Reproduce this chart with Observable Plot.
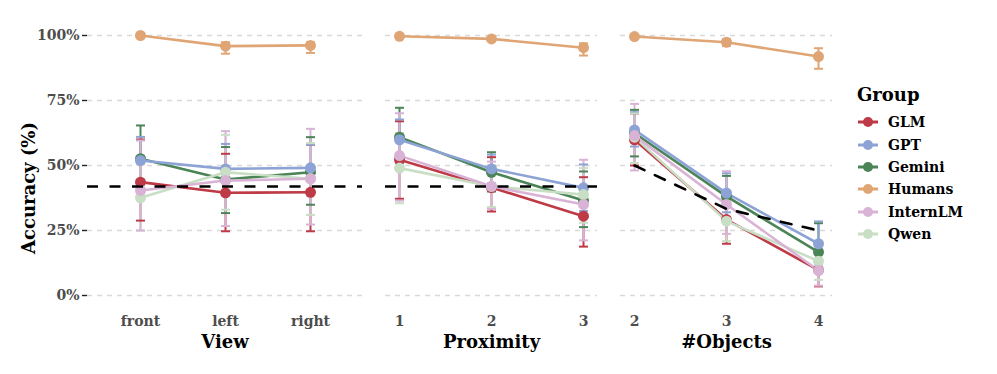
<!DOCTYPE html>
<html>
<head>
<meta charset="utf-8">
<script src="https://cdn.jsdelivr.net/npm/d3@7"></script>
<script src="https://cdn.jsdelivr.net/npm/@observablehq/plot@0.6"></script>
<style>
  html, body { margin: 0; padding: 0; background: white; }
  #chart { position: relative; width: 997px; height: 374px; background: white; font-family: "DejaVu Serif", serif; font-weight: bold; overflow: hidden; }
  .panel { position: absolute; top: 0; }
  .panel svg { overflow: visible; }
  #ytitle { position: absolute; left: 28px; top: 188px; transform: translate(-50%, -50%) rotate(-90deg); font-size: 18px; white-space: nowrap; color: #000; }
  #legend { position: absolute; left: 855px; top: 82px; }
  #legend .title { font-size: 18px; height: 29px; line-height: 26px; margin-left: 2px; }
  #legend .item { display: flex; align-items: center; height: 22.4px; font-size: 14px; color: #000; }
  #legend .item svg { margin-right: 9px; }
</style>
</head>
<body>
<div id="chart">
  <div id="ytitle">Accuracy (%)</div>
  <div id="legend"></div>
</div>
<script>
// ---- data ----
const groups = ["GLM", "GPT", "Gemini", "Humans", "InternLM", "Qwen"];
const groupColors = ["#BE3A47", "#8DA3D6", "#4B8456", "#DFA574", "#D9B3D6", "#C8DEC5"];
const drawOrder = ["Humans", "GLM", "Gemini", "GPT", "Qwen", "InternLM"];

const viewCats = ["front", "left", "right"];
const proximityCats = [1, 2, 3];
const objectCats = [2, 3, 4];

// accuracy (%) per group (rows in `groups` order) per category
const viewMean = [
  [43.6, 39.5, 39.7],
  [51.9, 48.7, 49.1],
  [52.6, 44.6, 47.4],
  [100.0, 95.9, 96.2],
  [40.4, 44.2, 44.9],
  [37.6, 47.4, 44.9]
];
const viewLow = [
  [28.8, 24.7, 24.7],
  [43.0, 39.5, 40.0],
  [40.0, 31.7, 34.9],
  [100.0, 93.0, 93.3],
  [25.0, 26.7, 27.3],
  [25.0, 33.0, 31.0]
];
const viewHigh = [
  [60.0, 54.5, 58.0],
  [61.0, 58.3, 58.0],
  [65.4, 57.1, 60.9],
  [100.0, 97.4, 97.4],
  [59.6, 63.2, 64.1],
  [50.5, 61.8, 58.6]
];

const proximityMean = [
  [52.2, 41.5, 30.5],
  [59.9, 48.7, 41.4],
  [60.9, 47.4, 36.5],
  [99.7, 98.7, 95.3],
  [53.8, 42.0, 35.0],
  [49.0, 42.0, 38.8]
];
const proximityLow = [
  [37.2, 32.3, 18.8],
  [51.0, 43.2, 32.5],
  [49.6, 40.0, 26.3],
  [99.2, 97.9, 92.3],
  [36.5, 33.3, 21.2],
  [35.5, 34.0, 28.0]
];
const proximityHigh = [
  [67.0, 53.2, 45.5],
  [67.7, 54.2, 50.4],
  [72.2, 55.1, 47.7],
  [100.0, 99.5, 97.0],
  [70.1, 51.5, 52.2],
  [62.5, 50.0, 49.0]
];

const objectMean = [
  [59.9, 29.2, 9.8],
  [63.7, 39.4, 19.9],
  [62.4, 38.1, 16.7],
  [99.6, 97.4, 91.9],
  [61.5, 35.0, 9.6],
  [60.9, 28.6, 13.2]
];
const objectLow = [
  [50.0, 19.9, 3.5],
  [57.3, 32.0, 12.0],
  [53.5, 30.0, 9.0],
  [99.0, 96.0, 87.2],
  [48.1, 23.7, 3.8],
  [51.0, 20.9, 6.0]
];
const objectHigh = [
  [70.0, 39.0, 17.0],
  [70.5, 47.0, 28.5],
  [71.4, 46.0, 27.8],
  [100.0, 98.6, 95.1],
  [73.7, 47.8, 16.0],
  [70.0, 37.0, 20.1]
];

const viewChance = [41.9];
const proximityChance = [41.9];
const objectChance = [50.0, 33.3, 25.0];

const yTicks = [0, 0.25, 0.5, 0.75, 1];

// ---- helpers ----
function rowsFor(cats, mean, low, high) {
  const rows = [];
  for (const g of drawOrder) {
    const i = groups.indexOf(g);
    cats.forEach((c, j) => rows.push({group: g, x: c, y: mean[i][j] / 100, lo: low[i][j] / 100, hi: high[i][j] / 100}));
  }
  return rows;
}

const capSymbol = {
  draw(context, size) {
    const w = Math.sqrt(size / Math.PI);
    context.moveTo(-w, 0);
    context.lineTo(w, 0);
  }
};

const H = 374, TOP = 35, BOTTOM = 79;

function panel({cats, rows, title, width, marginLeft, marginRight, padding, yAxis, chanceMarks}) {
  const marks = [
    Plot.gridY(yTicks, {stroke: "#d9d9d9", strokeOpacity: 1, strokeWidth: 1.3, strokeDasharray: "5,5"}),
    Plot.axisX({tickSize: 0, tickPadding: 21, fontSize: 14, fill: "#4d4d4d", label: null}),
    Plot.text([title], {text: d => d, frameAnchor: "bottom", lineAnchor: "middle", dy: 47, fontSize: 18, fill: "#000"}),
    Plot.ruleX(rows, {x: "x", y1: "lo", y2: "hi", stroke: "group", strokeWidth: 2}),
    Plot.dot(rows, {x: "x", y: "lo", symbol: capSymbol, r: 4.5, stroke: "group", strokeWidth: 2, fill: "none"}),
    Plot.dot(rows, {x: "x", y: "hi", symbol: capSymbol, r: 4.5, stroke: "group", strokeWidth: 2, fill: "none"}),
    Plot.line(rows, {x: "x", y: "y", z: "group", stroke: "group", strokeWidth: 2.6}),
    Plot.dot(rows, {x: "x", y: "y", fill: "group", r: 5.5, stroke: "none"}),
    ...chanceMarks
  ];
  if (yAxis) {
    marks.push(Plot.axisY(yTicks, {tickSize: 5, tickPadding: 3, fontSize: 14, fill: "#4d4d4d", stroke: "#222", strokeWidth: 1.4, tickFormat: d3.format(".0%"), label: null}));
  }
  return Plot.plot({
    width, height: H,
    marginTop: TOP, marginBottom: BOTTOM, marginLeft, marginRight,
    style: {fontFamily: "'DejaVu Serif', serif", fontWeight: "bold", fontSize: "14px", background: "transparent", overflow: "visible"},
    x: {type: "point", domain: cats, padding, axis: null},
    y: {domain: [0, 1], axis: null},
    color: {domain: groups, range: groupColors},
    marks
  });
}

const chart = document.getElementById("chart");
function place(svg, left) {
  const d = document.createElement("div");
  d.className = "panel";
  d.style.left = left + "px";
  d.appendChild(svg);
  chart.appendChild(d);
}

const chanceStyle = {stroke: "#000", strokeWidth: 2.6, strokeDasharray: "11,11.5"};

place(panel({
  cats: viewCats, rows: rowsFor(viewCats, viewMean, viewLow, viewHigh), title: "View",
  width: 362, marginLeft: 87, marginRight: 0, padding: 0.6, yAxis: true,
  chanceMarks: [Plot.ruleY(viewChance.map(v => v / 100), chanceStyle)]
}), 0);

place(panel({
  cats: proximityCats, rows: rowsFor(proximityCats, proximityMean, proximityLow, proximityHigh), title: "Proximity",
  width: 252, marginLeft: 20, marginRight: 20, padding: 0.152, yAxis: false,
  chanceMarks: [Plot.ruleY(proximityChance.map(v => v / 100), chanceStyle)]
}), 365);

place(panel({
  cats: objectCats, rows: rowsFor(objectCats, objectMean, objectLow, objectHigh), title: "#Objects",
  width: 252, marginLeft: 20, marginRight: 20, padding: 0.152, yAxis: false,
  chanceMarks: [Plot.line(objectCats.map((c, i) => ({x: c, y: objectChance[i] / 100})), {x: "x", y: "y", ...chanceStyle})]
}), 600);

// ---- legend ----
const legend = document.getElementById("legend");
const lt = document.createElement("div");
lt.className = "title";
lt.textContent = "Group";
legend.appendChild(lt);
groups.forEach((g, i) => {
  const item = document.createElement("div");
  item.className = "item";
  const s = d3.create("svg").attr("width", 24).attr("height", 14);
  s.append("line").attr("x1", 3).attr("x2", 23).attr("y1", 7).attr("y2", 7).attr("stroke", groupColors[i]).attr("stroke-width", 3);
  s.append("circle").attr("cx", 13).attr("cy", 7).attr("r", 5).attr("fill", groupColors[i]);
  item.appendChild(s.node());
  const t = document.createElement("span");
  t.textContent = g;
  item.appendChild(t);
  legend.appendChild(item);
});
</script>
</body>
</html>
